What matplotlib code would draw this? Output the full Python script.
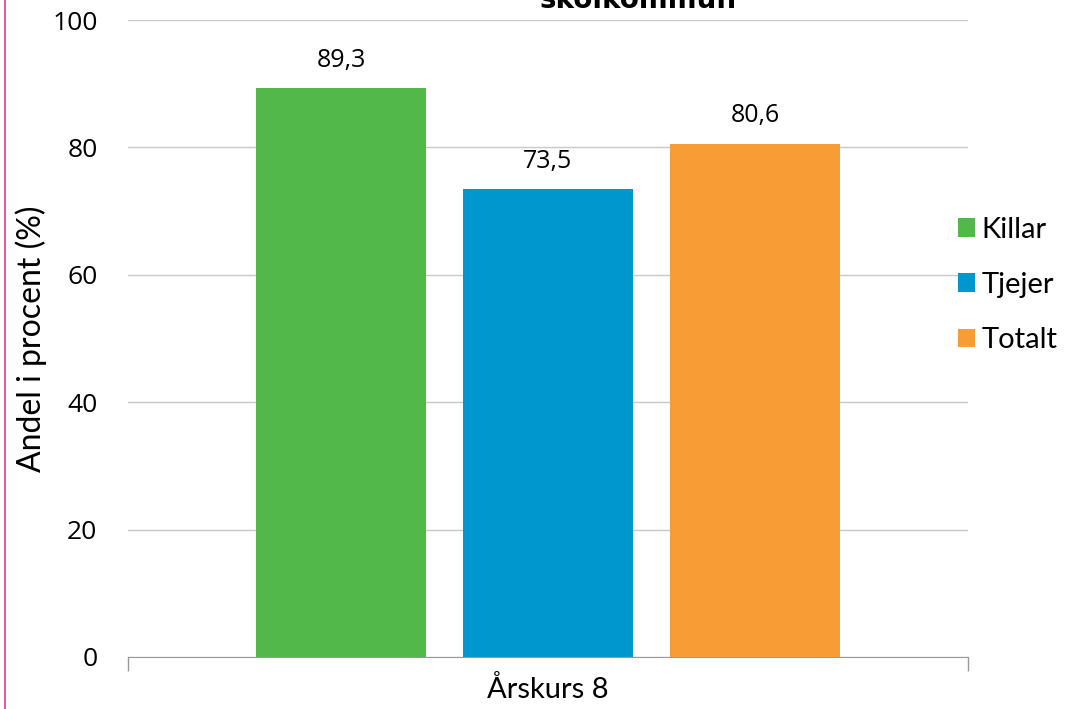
import matplotlib.pyplot as plt
import numpy as np

# data
kategori = ["Årskurs 8"]
serier = ["Killar", "Tjejer", "Totalt"]
varden = [89.3, 73.5, 80.6]
farger = ["#53b84a", "#0097cf", "#f89d35"]

fig = plt.figure(figsize=(10.66, 7.09), dpi=100)
ax = fig.add_axes([128/1066, 1 - 657/709, 840/1066, 637/709])

bredd = 0.2024
steg = 0.2464
x = np.arange(len(kategori))
for i, (namn, v, f) in enumerate(zip(serier, varden, farger)):
    pos = x + (i - 1) * steg
    ax.bar(pos, [v], width=bredd, color=f, label=namn, zorder=3)
    ax.annotate(f"{v:.1f}".replace(".", ","), (pos[0], v), xytext=(0, 11),
                textcoords="offset points", ha="center", va="bottom",
                fontsize=18, family="Open Sans")

ax.set_xlim(-0.5, 0.5)
ax.set_ylim(0, 100)
ax.set_yticks(range(0, 101, 20))
ax.tick_params(axis="y", length=0, labelsize=19, pad=22)
for t in ax.get_yticklabels():
    t.set_family("Open Sans")
ax.grid(axis="y", color="#c8c8c8", linewidth=1, zorder=0)

# kategori-axel: streck vid kanterna, etikett i mitten
ax.set_xticks([-0.5, 0.5])
ax.set_xticklabels(["", ""])
ax.tick_params(axis="x", which="major", length=10, color="#999999", width=1)
ax.set_xticks(x, minor=True)
ax.set_xticklabels(kategori, minor=True, fontsize=21, family="Lato")
ax.tick_params(axis="x", which="minor", length=0, pad=14)

for s in ["top", "right", "left"]:
    ax.spines[s].set_visible(False)
ax.spines["bottom"].set_color("#999999")
ax.spines["bottom"].set_zorder(4)

ax.set_ylabel("Andel i procent (%)", fontsize=23, family="Lato", labelpad=4)

ax.legend(loc="center left", bbox_to_anchor=(0.988, 0.584), frameon=False,
          borderaxespad=0, borderpad=0,
          prop={"family": "Lato", "size": 21}, handlelength=0.6, handleheight=0.6,
          handletextpad=0.2, labelspacing=1.0)

# avklippt rubrik
fig.text(638/1066, 1 - 8/709, "skolkommun", ha="center", va="baseline",
         fontsize=20, fontweight="bold", family="DejaVu Sans")

# rosa kantlinje till vänster
fig.add_artist(plt.Line2D([5/1066, 5/1066], [0, 1], color="#e8378f", linewidth=1.2))

fig.savefig("out.png", dpi=100)
